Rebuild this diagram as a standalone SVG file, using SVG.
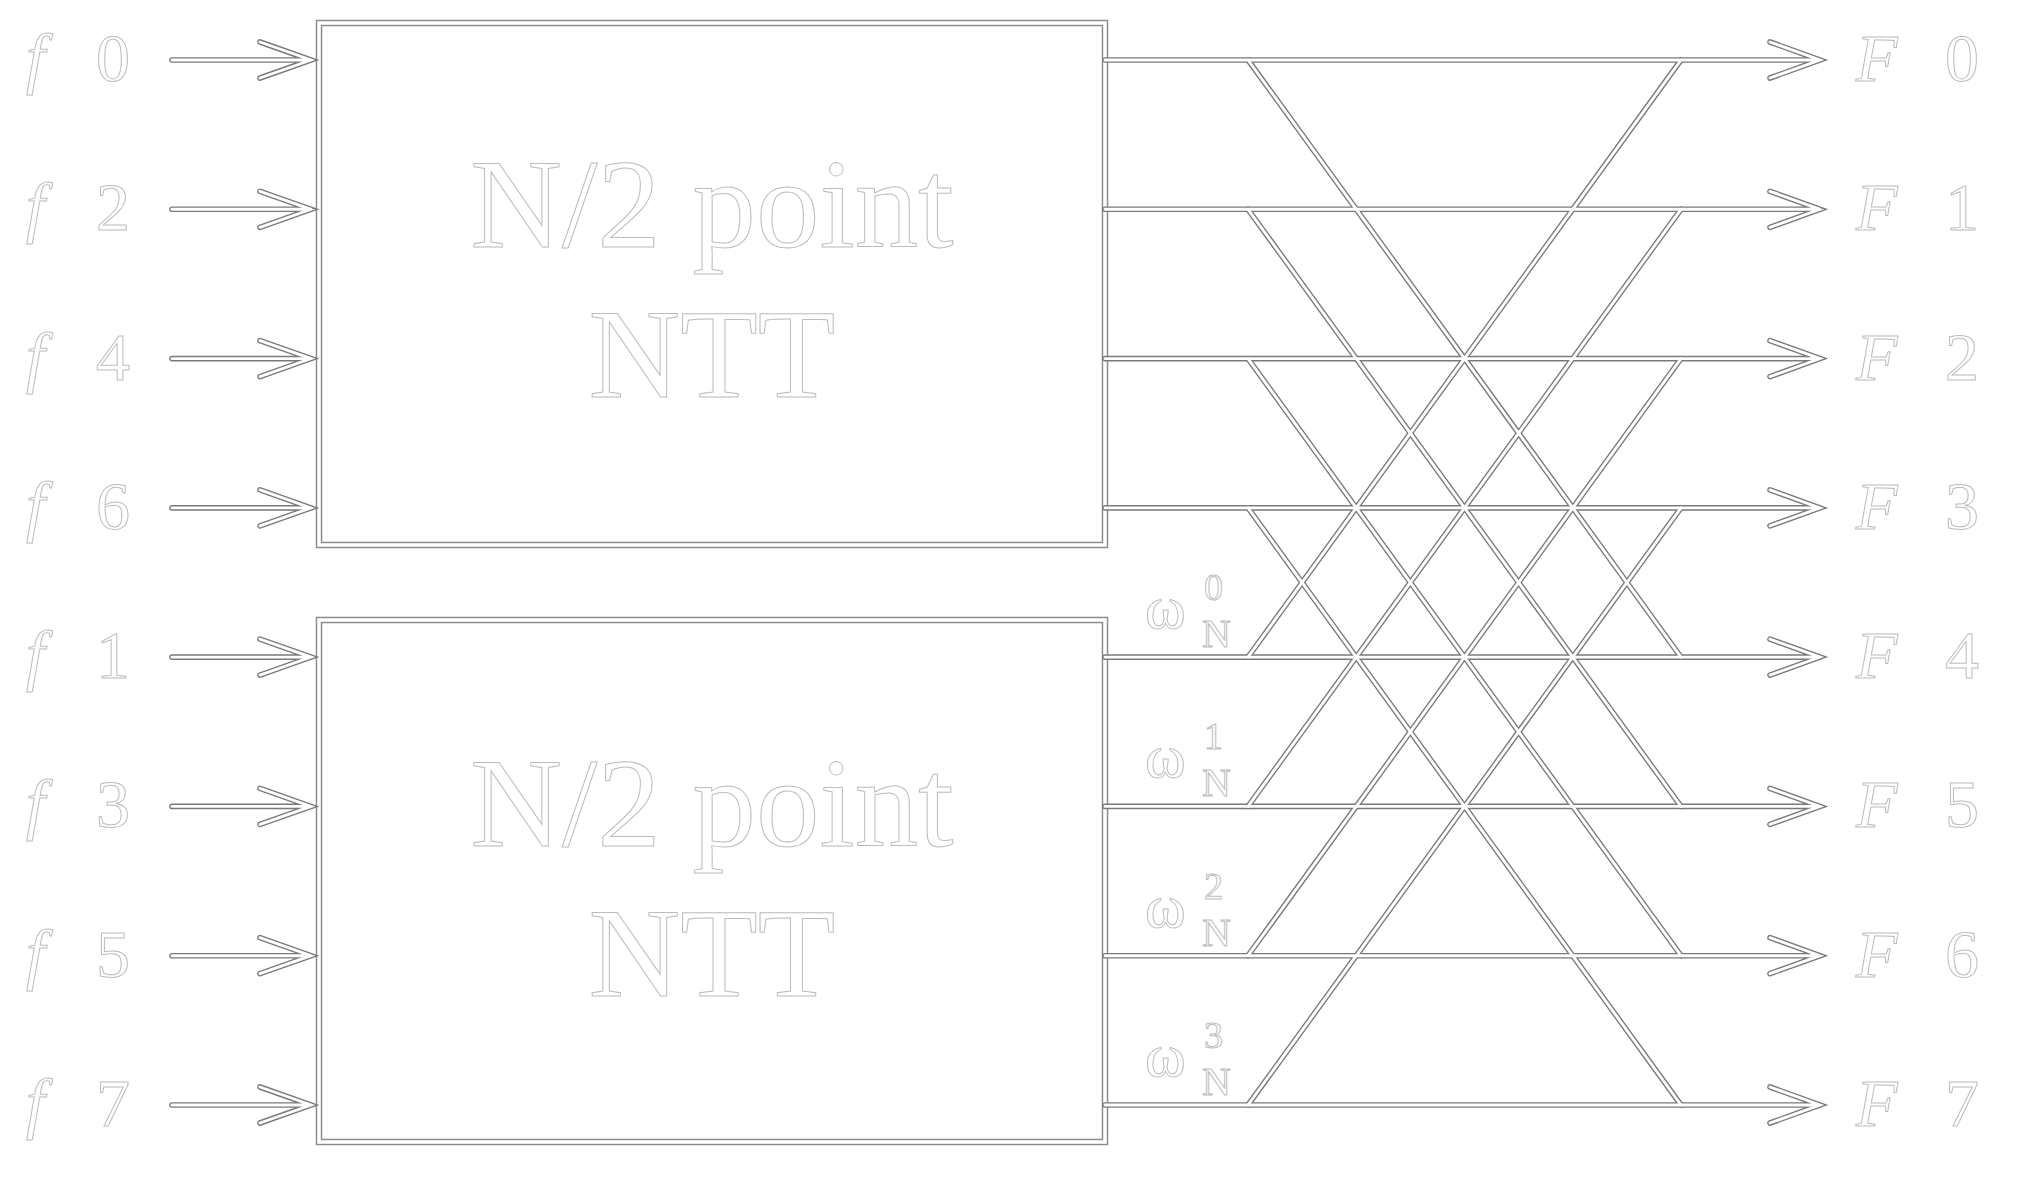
<svg xmlns="http://www.w3.org/2000/svg" xmlns:xlink="http://www.w3.org/1999/xlink" width="2039" height="1178" viewBox="0 0 2039 1178">
<style>
.bo{fill:none;stroke:#8a8a8a;stroke-width:6.5}
.bi{fill:none;stroke:#fff;stroke-width:3.6}
.wo{fill:none;stroke:#7a7a7a;stroke-width:5.6;stroke-linecap:round;stroke-linejoin:miter}
.wi{fill:none;stroke:#fff;stroke-width:2.9;stroke-linecap:round;stroke-linejoin:miter}
text{font-family:"Liberation Serif","Times New Roman",serif;fill:#fff;stroke:#bcbcbc;stroke-width:1}
.lab{font-size:68px}
.it{font-style:italic}
.big{font-size:127px;text-anchor:middle}
.om{font-size:62px}
.sup{font-size:38px}
.sub{font-size:40px}
</style>
<defs>
<g id="wires">
<path d="M172,60 H311 M260,42 L311,60 L260,78"/>
<path d="M172,209.3 H311 M260,191.3 L311,209.3 L260,227.3"/>
<path d="M172,358.6 H311 M260,340.6 L311,358.6 L260,376.6"/>
<path d="M172,507.9 H311 M260,489.9 L311,507.9 L260,525.9"/>
<path d="M172,657.1 H311 M260,639.1 L311,657.1 L260,675.1"/>
<path d="M172,806.4 H311 M260,788.4 L311,806.4 L260,824.4"/>
<path d="M172,955.7 H311 M260,937.7 L311,955.7 L260,973.7"/>
<path d="M172,1105 H311 M260,1087 L311,1105 L260,1123"/>
<path d="M1105,60 H1820 M1770,42 L1820,60 L1770,78"/>
<path d="M1105,209.3 H1820 M1770,191.3 L1820,209.3 L1770,227.3"/>
<path d="M1105,358.6 H1820 M1770,340.6 L1820,358.6 L1770,376.6"/>
<path d="M1105,507.9 H1820 M1770,489.9 L1820,507.9 L1770,525.9"/>
<path d="M1105,657.1 H1820 M1770,639.1 L1820,657.1 L1770,675.1"/>
<path d="M1105,806.4 H1820 M1770,788.4 L1820,806.4 L1770,824.4"/>
<path d="M1105,955.7 H1820 M1770,937.7 L1820,955.7 L1770,973.7"/>
<path d="M1105,1105 H1820 M1770,1087 L1820,1105 L1770,1123"/>
<path d="M1248,60 L1681,657.1 M1248,657.1 L1681,60"/>
<path d="M1248,209.3 L1681,806.4 M1248,806.4 L1681,209.3"/>
<path d="M1248,358.6 L1681,955.7 M1248,955.7 L1681,358.6"/>
<path d="M1248,507.9 L1681,1105 M1248,1105 L1681,507.9"/>
</g>
</defs>
<g id="box1">
<rect class="bo" x="319" y="23" width="786" height="522"/>
<rect class="bi" x="319" y="23" width="786" height="522"/>
<text class="big" x="712" y="247">N/2 point</text>
<text class="big" x="712" y="397">NTT</text>
</g>
<g id="box2">
<rect class="bo" x="319" y="620" width="786" height="522"/>
<rect class="bi" x="319" y="620" width="786" height="522"/>
<text class="big" x="712" y="846">N/2 point</text>
<text class="big" x="712" y="996">NTT</text>
</g>
<g id="connectors">
<use xlink:href="#wires" class="wo"/>
<use xlink:href="#wires" class="wi"/>
</g>
<g id="inputs">
<g id="in-f0"><text class="lab it" x="26" y="81">f</text><text class="lab" x="96" y="81">0</text></g>
<g id="in-f2"><text class="lab it" x="26" y="230">f</text><text class="lab" x="96" y="230">2</text></g>
<g id="in-f4"><text class="lab it" x="26" y="380">f</text><text class="lab" x="96" y="380">4</text></g>
<g id="in-f6"><text class="lab it" x="26" y="529">f</text><text class="lab" x="96" y="529">6</text></g>
<g id="in-f1"><text class="lab it" x="26" y="678">f</text><text class="lab" x="96" y="678">1</text></g>
<g id="in-f3"><text class="lab it" x="26" y="827">f</text><text class="lab" x="96" y="827">3</text></g>
<g id="in-f5"><text class="lab it" x="26" y="977">f</text><text class="lab" x="96" y="977">5</text></g>
<g id="in-f7"><text class="lab it" x="26" y="1126">f</text><text class="lab" x="96" y="1126">7</text></g>
</g>
<g id="outputs">
<g id="out-F0"><text class="lab it" x="1856" y="81">F</text><text class="lab" x="1945" y="81">0</text></g>
<g id="out-F1"><text class="lab it" x="1856" y="230">F</text><text class="lab" x="1945" y="230">1</text></g>
<g id="out-F2"><text class="lab it" x="1856" y="380">F</text><text class="lab" x="1945" y="380">2</text></g>
<g id="out-F3"><text class="lab it" x="1856" y="529">F</text><text class="lab" x="1945" y="529">3</text></g>
<g id="out-F4"><text class="lab it" x="1856" y="678">F</text><text class="lab" x="1945" y="678">4</text></g>
<g id="out-F5"><text class="lab it" x="1856" y="827">F</text><text class="lab" x="1945" y="827">5</text></g>
<g id="out-F6"><text class="lab it" x="1856" y="977">F</text><text class="lab" x="1945" y="977">6</text></g>
<g id="out-F7"><text class="lab it" x="1856" y="1126">F</text><text class="lab" x="1945" y="1126">7</text></g>
</g>
<g id="twiddles">
<g id="w0"><text class="om" x="1145" y="628">ω</text><text class="sup" x="1204" y="600">0</text><text class="sub" x="1202" y="647">N</text></g>
<g id="w1"><text class="om" x="1145" y="777">ω</text><text class="sup" x="1204" y="749">1</text><text class="sub" x="1202" y="796">N</text></g>
<g id="w2"><text class="om" x="1145" y="927">ω</text><text class="sup" x="1204" y="899">2</text><text class="sub" x="1202" y="946">N</text></g>
<g id="w3"><text class="om" x="1145" y="1076">ω</text><text class="sup" x="1204" y="1048">3</text><text class="sub" x="1202" y="1095">N</text></g>
</g>
</svg>
